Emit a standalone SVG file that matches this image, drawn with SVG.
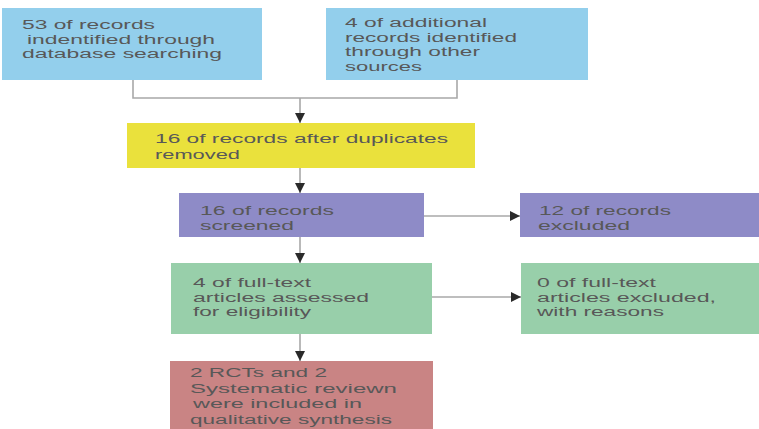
<svg xmlns="http://www.w3.org/2000/svg" width="759" height="429" viewBox="0 0 759 429">
<style>
  .t { font-family: "Liberation Sans", Arial, sans-serif; font-size: 12.5px; fill: #585858; }
  .blue { fill: #93cfec; }
  .yellow { fill: #eae13c; }
  .purple { fill: #8e8bc7; }
  .green { fill: #98cfaa; }
  .red { fill: #c98484; }
  .ln { fill: none; stroke: #a8a8a8; stroke-width: 1.6; }
</style>
<defs>
  <marker id="ah" markerWidth="11" markerHeight="11" refX="10" refY="5" orient="auto" markerUnits="userSpaceOnUse">
    <path d="M0,0 L10,5 L0,10 z" fill="#2a2a2a"/>
  </marker>
</defs>
<rect width="759" height="429" fill="#ffffff"/>

<g id="connectors">
  <polyline class="ln" points="133,80 133,98 457,98 457,80"/>
  <line class="ln" x1="300" y1="98" x2="300" y2="123" marker-end="url(#ah)"/>
  <line class="ln" x1="300" y1="168" x2="300" y2="193" marker-end="url(#ah)"/>
  <line class="ln" x1="300" y1="237" x2="300" y2="263" marker-end="url(#ah)"/>
  <line class="ln" x1="300" y1="334" x2="300" y2="361" marker-end="url(#ah)"/>
  <line class="ln" x1="424" y1="216" x2="520" y2="216" marker-end="url(#ah)"/>
  <line class="ln" x1="432" y1="297" x2="521" y2="297" marker-end="url(#ah)"/>
</g>

<g id="node-database">
  <rect class="blue" x="2" y="8" width="260" height="72"/>
  <text class="t" x="22" y="29" textLength="133" lengthAdjust="spacingAndGlyphs">53 of records</text>
  <text class="t" x="27" y="43.5" textLength="188" lengthAdjust="spacingAndGlyphs">indentified through</text>
  <text class="t" x="22" y="58" textLength="200" lengthAdjust="spacingAndGlyphs">database searching</text>
</g>

<g id="node-other-sources">
  <rect class="blue" x="326" y="8" width="262" height="72"/>
  <text class="t" x="345" y="27" textLength="142" lengthAdjust="spacingAndGlyphs">4 of additional</text>
  <text class="t" x="345" y="41.5" textLength="172" lengthAdjust="spacingAndGlyphs">records identified</text>
  <text class="t" x="345" y="56" textLength="135" lengthAdjust="spacingAndGlyphs">through other</text>
  <text class="t" x="345" y="70.5" textLength="77" lengthAdjust="spacingAndGlyphs">sources</text>
</g>

<g id="node-duplicates">
  <rect class="yellow" x="127" y="123" width="348" height="45"/>
  <text class="t" x="155" y="143" textLength="293" lengthAdjust="spacingAndGlyphs">16 of records after duplicates</text>
  <text class="t" x="155" y="158.5" textLength="85" lengthAdjust="spacingAndGlyphs">removed</text>
</g>

<g id="node-screened">
  <rect class="purple" x="179" y="193" width="245" height="44"/>
  <text class="t" x="200" y="215" textLength="134" lengthAdjust="spacingAndGlyphs">16 of records</text>
  <text class="t" x="200" y="229.5" textLength="94" lengthAdjust="spacingAndGlyphs">screened</text>
</g>

<g id="node-excluded">
  <rect class="purple" x="520" y="193" width="239" height="44"/>
  <text class="t" x="539" y="215" textLength="132" lengthAdjust="spacingAndGlyphs">12 of records</text>
  <text class="t" x="538" y="229.5" textLength="92" lengthAdjust="spacingAndGlyphs">excluded</text>
</g>

<g id="node-eligibility">
  <rect class="green" x="171" y="263" width="261" height="71"/>
  <text class="t" x="193" y="287" textLength="118" lengthAdjust="spacingAndGlyphs">4 of full-text</text>
  <text class="t" x="193" y="302" textLength="176" lengthAdjust="spacingAndGlyphs">articles assessed</text>
  <text class="t" x="193" y="316" textLength="118" lengthAdjust="spacingAndGlyphs">for eligibility</text>
</g>

<g id="node-fulltext-excluded">
  <rect class="green" x="521" y="263" width="238" height="71"/>
  <text class="t" x="537" y="287" textLength="119" lengthAdjust="spacingAndGlyphs">0 of full-text</text>
  <text class="t" x="537" y="302" textLength="179" lengthAdjust="spacingAndGlyphs">articles excluded,</text>
  <text class="t" x="537" y="316" textLength="127" lengthAdjust="spacingAndGlyphs">with reasons</text>
</g>

<g id="node-included">
  <rect class="red" x="170" y="361" width="263" height="68"/>
  <text class="t" x="190" y="377" textLength="137" lengthAdjust="spacingAndGlyphs">2 RCTs and 2</text>
  <text class="t" x="190" y="392.5" textLength="207" lengthAdjust="spacingAndGlyphs">Systematic reviewn</text>
  <text class="t" x="193" y="408" textLength="169" lengthAdjust="spacingAndGlyphs">were included in</text>
  <text class="t" x="190" y="423.5" textLength="202" lengthAdjust="spacingAndGlyphs">qualitative synthesis</text>
</g>
</svg>
